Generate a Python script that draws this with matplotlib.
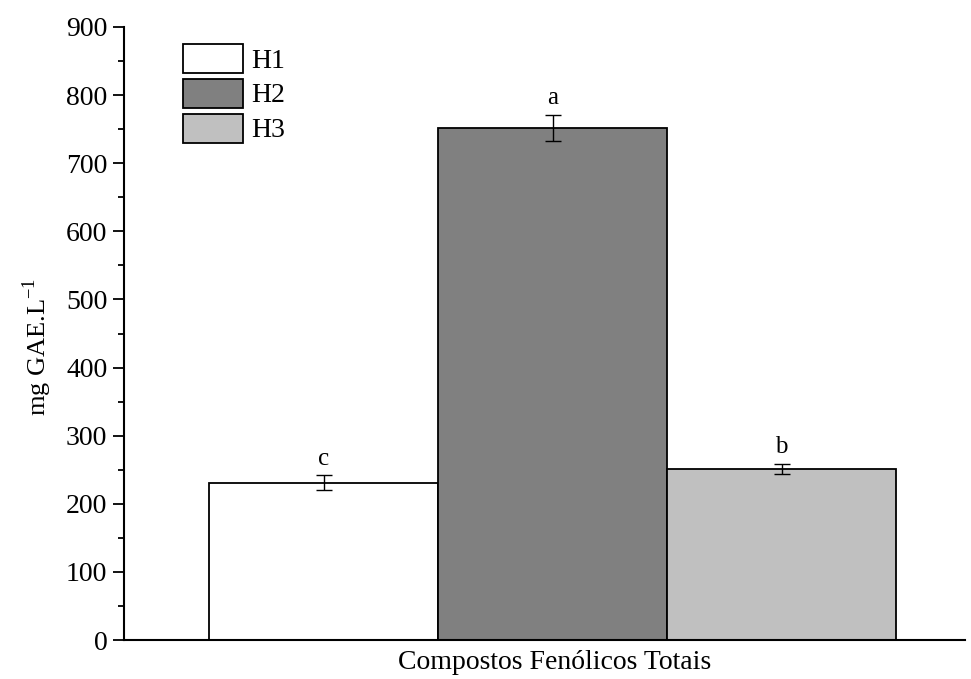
import matplotlib
matplotlib.use("Agg")
import matplotlib.pyplot as plt
from matplotlib.ticker import MultipleLocator

# Total phenolic compounds by treatment
groups = ["H1", "H2", "H3"]
values = [231, 752, 251]
errors = [11, 19, 8]
letters = ["c", "a", "b"]
colors = ["#ffffff", "#808080", "#c0c0c0"]

plt.rcParams["font.family"] = ["Liberation Serif", "DejaVu Serif"]

fig = plt.figure(figsize=(9.71, 6.79), dpi=100)
ax = fig.add_axes([124 / 971, 39 / 679, 841 / 971, 613 / 679])

positions = list(range(len(groups)))
bars = ax.bar(positions, values, width=1.0, color=colors, edgecolor="black",
              linewidth=1.3, label=groups, zorder=2)
ax.errorbar(positions, values, yerr=errors, fmt="none", ecolor="black",
            elinewidth=1.0, capsize=6, capthick=1.0, zorder=3)

for x, v, e, t in zip(positions, values, errors, letters):
    ax.text(x, v + e + 8, t, ha="center", va="bottom", fontsize=18)

ax.set_xlim(-0.871, 2.80)
ax.set_ylim(0, 900)
ax.yaxis.set_major_locator(MultipleLocator(100))
ax.yaxis.set_minor_locator(MultipleLocator(50))
ax.tick_params(axis="y", which="major", length=8, width=1.3, labelsize=20,
               direction="out", pad=4)
ax.tick_params(axis="y", which="minor", length=4, width=1.3, direction="out")
ax.set_xticks([])

for side in ("top", "right"):
    ax.spines[side].set_visible(False)
for side in ("left", "bottom"):
    ax.spines[side].set_linewidth(1.5)

ax.set_ylabel("mg GAE.L$^{\\mathregular{-1}}$", fontsize=19)
ax.yaxis.set_label_coords(-0.083, 0.478)
ax.set_xlabel("Compostos Fenólicos Totais", fontsize=20)
ax.xaxis.set_label_coords(0.5125, -0.0165)

ax.legend(handles=list(bars), labels=groups, loc="upper left",
          bbox_to_anchor=(180 / 971, 1 - 41 / 679), bbox_transform=fig.transFigure,
          frameon=False, fontsize=20, handlelength=2.16, handleheight=1.23,
          labelspacing=0.18, handletextpad=0.3, borderpad=0.1, borderaxespad=0)

fig.savefig("out.png", dpi=100)
